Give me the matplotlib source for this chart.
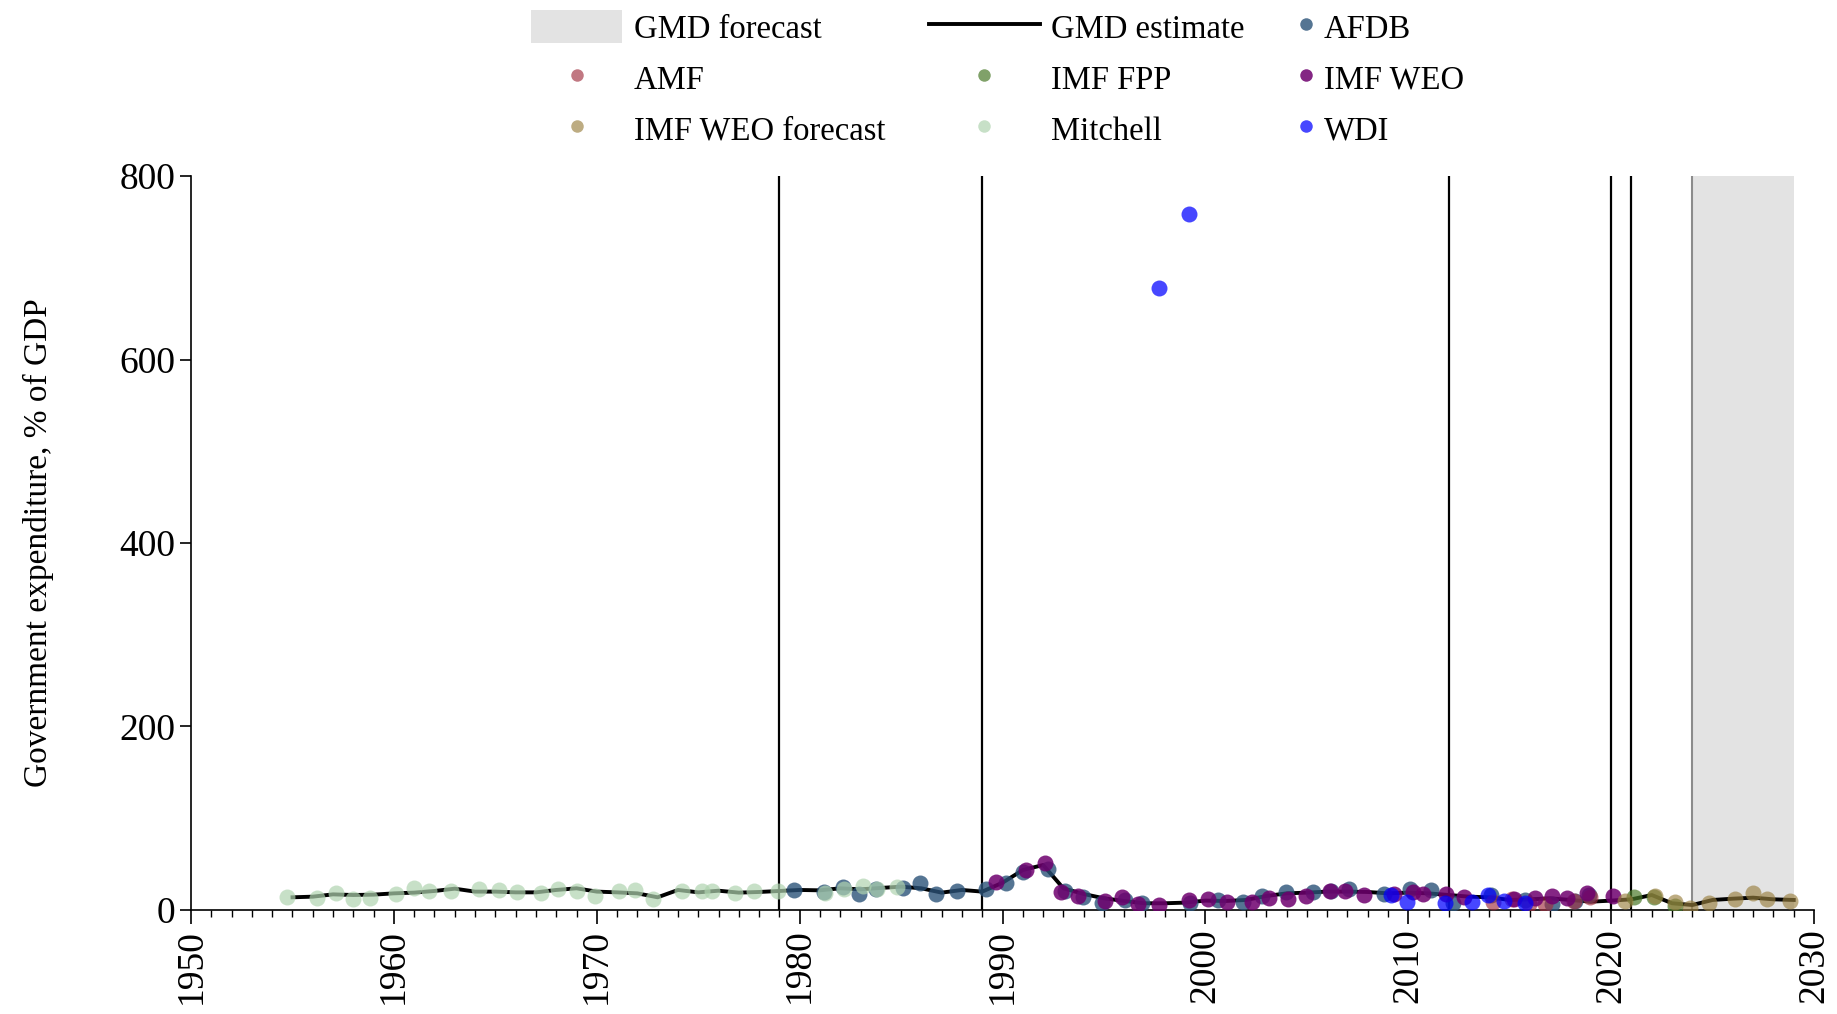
import matplotlib
matplotlib.use("Agg")
import matplotlib.pyplot as plt
from matplotlib.lines import Line2D
from matplotlib.patches import Patch
from matplotlib.ticker import MultipleLocator

plt.rcParams['font.family'] = ['Liberation Serif', 'DejaVu Serif']
plt.rcParams['font.size'] = 24

# GMD estimate (line)
gmd_years = list(range(1955, 2030))
gmd_values = [13.8, 14.5, 17, 16.3, 16.7, 18.1, 18.9, 20.7, 23.2, 20,
              20, 19.2, 19.2, 21.8, 23.6, 20, 19.2, 18.1, 13.8, 21.8,
              19.2, 21, 18.9, 19.6, 20.7, 21.8, 21.4, 23.6, 22.5, 24,
              25.4, 23.6, 18.9, 21.8, 20, 29.7, 43.5, 49, 23.6, 17.4,
              12.7, 9.8, 7.3, 7.3, 8, 10.2, 9.8, 10.9, 15.2, 18.1,
              18.9, 20, 20, 19.6, 18.1, 18.9, 18.1, 16.3, 14.5, 13.8,
              10.9, 11.6, 12.7, 10.9, 9, 10.2, 11.6, 16.3, 7.3, 5.4,
              10.9, 12.3, 13.4, 11.6, 10.9]

afdb_years = [1979.72, 1981.2, 1982.15, 1982.9, 1983.74, 1985.1, 1985.95, 1986.74,
              1987.77, 1989.18, 1990.18, 1991.03, 1992.23, 1993.08, 1993.95, 1994.9,
              1996.03, 1996.85, 1999.23, 2000.6, 2001.87, 2002.77, 2003.95, 2005.3,
              2006.2, 2007.1, 2008.8, 2010.1, 2011.13, 2012.2, 2014.08, 2015.75,
              2017.1, 2018.2, 2018.9]
afdb_values = [21.4, 19.6, 25.4, 17.4, 22.5, 24.3, 29, 17.4,
               20.7, 22.5, 29.7, 41, 44.6, 20.7, 13.8, 8,
               10.9, 8, 8, 10.9, 9, 15.6, 20, 19.2,
               21, 22.5, 17, 22.5, 21.8, 7.3, 16.3, 10.9,
               6.2, 10.2, 16.3]

amf_years = [2014.16, 2015.1, 2015.97, 2016.75, 2018.18, 2018.95]
amf_values = [9, 11.6, 6.2, 6.2, 10.2, 13.8]

fpp_years = [2021.13, 2022.1, 2023.13]
fpp_values = [14.5, 14.5, 4.7]

weo_years = [1989.67, 1991.15, 1992.1, 1992.9, 1993.72, 1995.03, 1995.9, 1996.67,
             1997.7, 1999.2, 2000.15, 2001.08, 2002.3, 2003.13, 2004.05, 2004.95,
             2006.13, 2006.9, 2007.8, 2009.28, 2010.23, 2010.72, 2011.87, 2012.74,
             2015.2, 2016.25, 2017.07, 2017.8, 2018.8, 2020.1]
weo_values = [30.5, 43.5, 50.8, 19.6, 15.2, 10.2, 13.8, 6.5,
              5.4, 10.9, 11.6, 9, 9, 12.7, 12, 15.2,
              20.7, 21, 16.3, 17.4, 20, 17.4, 17, 14.5,
              11.6, 12.7, 15.2, 12.7, 18.1, 15.2]

weof_years = [2020.7, 2022.15, 2023.13, 2023.9, 2024.8, 2026.1, 2026.97, 2027.7, 2028.8]
weof_values = [9.8, 15.6, 8.3, 1.8, 8, 11.6, 18.1, 12, 9.8]

mitchell_years = [1954.75, 1956.2, 1957.16, 1957.97, 1958.8, 1960.1, 1960.98, 1961.74,
                  1962.8, 1964.2, 1965.2, 1966.07, 1967.25, 1968.07, 1969.0, 1969.9,
                  1971.08, 1971.87, 1972.75, 1974.2, 1975.2, 1975.7, 1976.8, 1977.75,
                  1978.95, 1981.25, 1982.2, 1983.1, 1983.8, 1984.8]
mitchell_values = [13.8, 12.7, 18.1, 12.3, 12.7, 17, 24.3, 21,
                   21, 22.5, 21.8, 19.2, 18.9, 22.5, 20.3, 15.6,
                   21, 21.4, 12, 21, 20.7, 21, 18.9, 20.7,
                   20.7, 18.9, 22.9, 26.5, 22.5, 25.4]

wdi_years = [1997.7, 1999.2, 2009.16, 2009.95, 2011.8, 2013.13, 2013.95, 2014.74, 2015.77]
wdi_values = [678, 759, 16.3, 9, 7.3, 9, 16.3, 10.2, 7.3]

event_years = [1979, 1989, 2012, 2020, 2021]
forecast_start, forecast_end = 2024, 2029

sources = [
    ("AFDB", afdb_years, afdb_values, '#2b5278', 0.8),
    ("AMF", amf_years, amf_values, '#a03040', 0.65),
    ("IMF FPP", fpp_years, fpp_values, '#4a7a2a', 0.7),
    ("IMF WEO", weo_years, weo_values, '#6e006e', 0.85),
    ("IMF WEO forecast", weof_years, weof_values, '#9a8040', 0.65),
    ("Mitchell", mitchell_years, mitchell_values, '#b0d4b0', 0.7),
    ("WDI", wdi_years, wdi_values, '#0000ff', 0.72),
]

fig = plt.figure(figsize=(18.37, 10.14), dpi=100)
ax = fig.add_axes([0.104, 0.1026, 0.8835, 0.7238])

ax.axvline(forecast_start, color='#8c8c8c', lw=1.5, zorder=1)
ax.axvspan(forecast_start, forecast_end, color='#e3e3e3', lw=0, zorder=0.5)
for yr in event_years:
    ax.axvline(yr, color='black', lw=1.6, zorder=1)

ax.plot(gmd_years, gmd_values, color='black', lw=2.8, zorder=2)

for name, xs, ys, c, a in sources:
    ax.plot(xs, ys, 'o', color=c, alpha=a, ms=11.5, mew=0, zorder=3)

ax.set_xlim(1950, 2030)
ax.set_ylim(0, 800)
ax.set_yticks([0, 200, 400, 600, 800])
ax.xaxis.set_major_locator(MultipleLocator(10))
ax.xaxis.set_minor_locator(MultipleLocator(1))
ax.tick_params(axis='x', which='major', length=10, width=1.2, labelrotation=90, labelsize=27)
ax.tick_params(axis='x', which='minor', length=5, width=1.0)
ax.tick_params(axis='y', which='major', length=8, width=1.2, labelsize=27)
for s in ['top', 'right']:
    ax.spines[s].set_visible(False)
for s in ['left', 'bottom']:
    ax.spines[s].set_linewidth(1.2)
ax.set_ylabel('Government expenditure, % of GDP', fontsize=24, labelpad=47)

def dot(c, a):
    return Line2D([], [], marker='o', ls='', color=c, alpha=a, ms=9, mew=0)

col = {n: (c, a) for n, _, _, c, a in sources}

top = 1 - 10 / 1014
common = dict(loc='upper left', frameon=False, borderpad=0, borderaxespad=0,
              handleheight=1.2, labelspacing=0.5, fontsize=23.5)
leg1 = fig.legend([Patch(facecolor='#e3e3e3', edgecolor='none'), dot(*col["AMF"]), dot(*col["IMF WEO forecast"])],
                  ["GMD forecast", "AMF", "IMF WEO forecast"],
                  bbox_to_anchor=(531 / 1837, top), handlelength=2.8, handletextpad=0.35, **common)
leg2 = fig.legend([Line2D([], [], color='black', lw=2.8), dot(*col["IMF FPP"]), dot(*col["Mitchell"])],
                  ["GMD estimate", "IMF FPP", "Mitchell"],
                  bbox_to_anchor=(929 / 1837, top), handlelength=3.4, handletextpad=0.35, **common)
leg3 = fig.legend([dot(*col["AFDB"]), dot(*col["IMF WEO"]), dot(*col["WDI"])],
                  ["AFDB", "IMF WEO", "WDI"],
                  bbox_to_anchor=(1296 / 1837, top), handlelength=0.6, handletextpad=0.25, **common)

fig.savefig('out.png', dpi=100)
